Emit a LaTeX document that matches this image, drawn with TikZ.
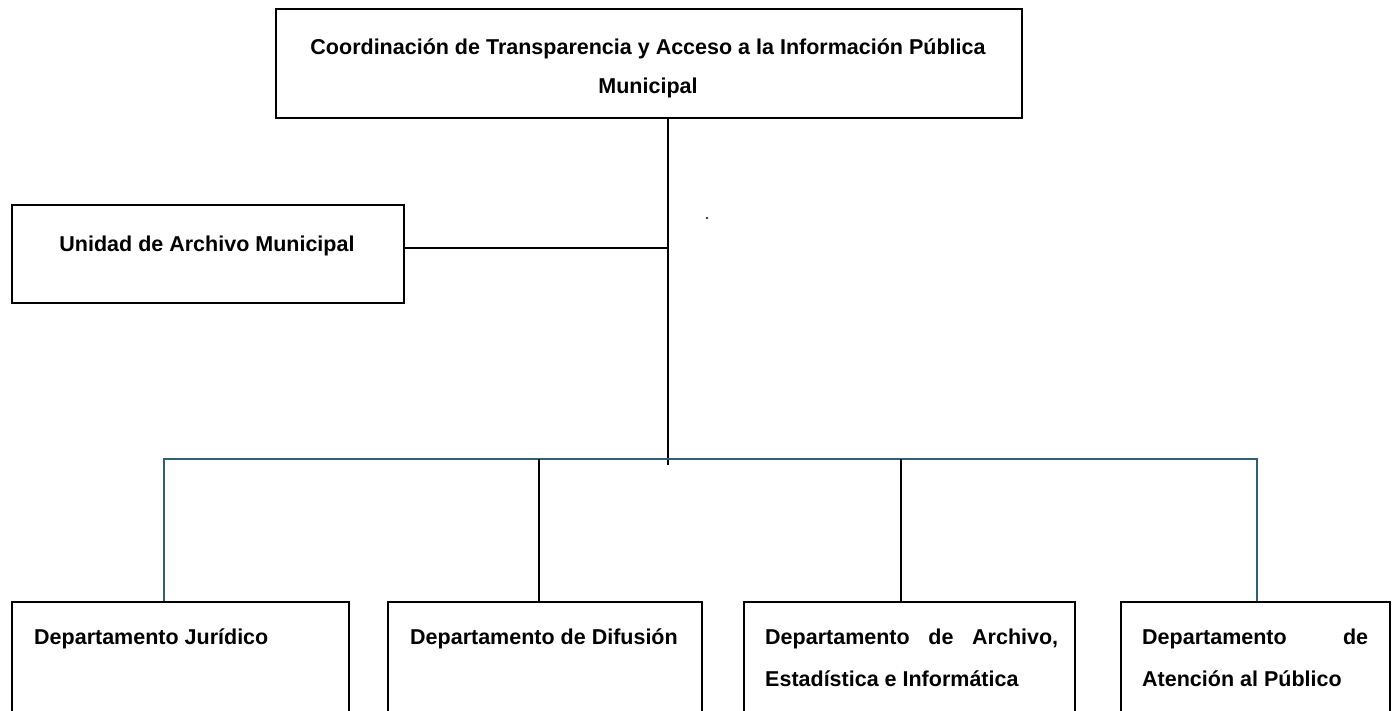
\documentclass[tikz,border=0pt]{standalone}
\usepackage{fontspec}
\setmainfont{Liberation Sans}
\definecolor{tealc}{RGB}{49,96,112}
\begin{document}
\begin{tikzpicture}[x=1pt,y=-1pt,
  box/.style={draw=black, line width=1.6pt, rectangle, inner sep=0pt, anchor=north west},
  lbl/.style={font=\bfseries\fontsize{21.5}{26}\selectfont, inner sep=0pt},
  conn/.style={line width=1.8pt, draw=black},
  tealconn/.style={line width=2.1pt, draw=tealc}]
\useasboundingbox (0,0) rectangle (1395,711);
% boxes
\node[box, line width=2.2pt, minimum width=746pt, minimum height=109pt] (top) at (275,8) {};
\node[box, minimum width=392pt, minimum height=98pt] (unidad) at (11,204) {};
\node[box, minimum width=337pt, minimum height=130pt] (b1) at (11,601) {};
\node[box, minimum width=314pt, minimum height=130pt] (b2) at (387,601) {};
\node[box, minimum width=331pt, minimum height=130pt] (b3) at (743,601) {};
\node[box, minimum width=269pt, minimum height=130pt] (b4) at (1120,601) {};
% texts
\node[lbl, anchor=base] (t1) at (648,55) {Coordinación de Transparencia y Acceso a la Información Pública};
\node[lbl, anchor=base] (t2) at (648,94) {Municipal};
\node[lbl, anchor=base] (tu) at (207,252) {Unidad de Archivo Municipal};
\node[lbl, anchor=base west] (tb1) at (34,644) {Departamento Jurídico};
\node[lbl, anchor=base west] (tb2) at (410,644) {Departamento de Difusión};
\node[lbl, anchor=base west] (tb3a) at (765,644) {\makebox[293pt][s]{Departamento de Archivo,}};
\node[lbl, anchor=base west] (tb3b) at (765,686) {Estadística e Informática};
\node[lbl, anchor=base west] (tb4a) at (1142,644) {\makebox[226pt][s]{Departamento de}};
\node[lbl, anchor=base west] (tb4b) at (1142,686) {Atención al Público};
% connectors
\coordinate (mj) at (668,465);
\coordinate (bl) at (164,459);
\coordinate (br) at (1257,459);
\coordinate (c2) at (539,459);
\coordinate (c3) at (901,459);
\draw[conn] (top.south -| mj) -- (mj);
\draw[conn] ([yshift=6pt]unidad.east) -- ([yshift=6pt]unidad.east -| mj);
\draw[tealconn] (bl |- b1.north) -- (bl) -- (br) -- (br |- b4.north);
\draw[conn] (c2) -- (c2 |- b2.north);
\draw[conn] (c3) -- (c3 |- b3.north);
\fill (707,218) circle (1.2pt);
\end{tikzpicture}
\end{document}
